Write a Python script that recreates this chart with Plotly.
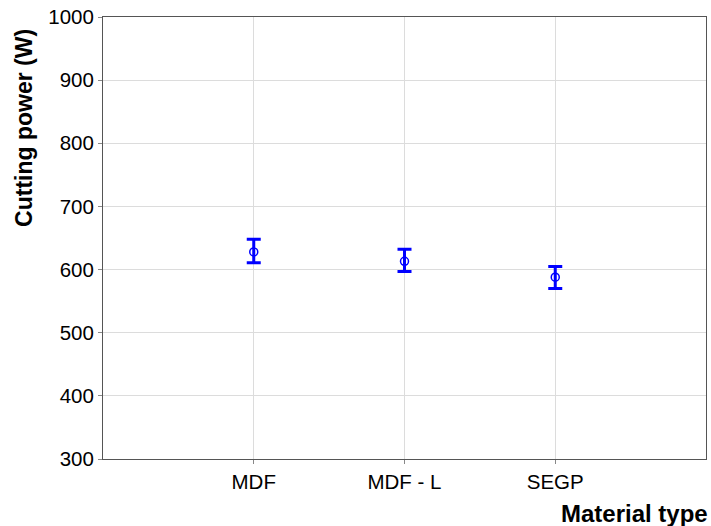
import plotly.graph_objects as go

categories = ["MDF", "MDF - L", "SEGP"]
means = [628, 613, 588]
upper = [648, 632, 605]
lower = [611, 597, 570]
y_ticks = [300, 400, 500, 600, 700, 800, 900, 1000]

err_plus = [u - m for u, m in zip(upper, means)]
err_minus = [m - l for m, l in zip(means, lower)]
xpos = list(range(len(categories)))

fig = go.Figure()
fig.add_trace(go.Scatter(
    x=xpos, y=means, mode="markers",
    marker=dict(symbol="circle-open", size=8, color="#0000ff", line=dict(width=1.5, color="#0000ff")),
    error_y=dict(type="data", symmetric=False, array=err_plus, arrayminus=err_minus,
                 color="#0000ff", thickness=3, width=7),
    showlegend=False,
))

font = "Liberation Sans, Arial, sans-serif"
fig.update_layout(
    width=711, height=526,
    margin=dict(l=103, r=5, t=17, b=67),
    plot_bgcolor="white", paper_bgcolor="white",
    font=dict(family=font, color="black", size=20),
    xaxis=dict(
        range=[-1, 3], tickmode="array", tickvals=xpos, ticktext=categories,
        showgrid=True, gridcolor="#dcdcdc", gridwidth=1,
        showline=True, linecolor="#555555", linewidth=1, mirror=True,
        ticks="outside", ticklen=4, tickcolor="#888888",
        tickfont=dict(size=20.5), zeroline=False,
    ),
    yaxis=dict(
        range=[300, 1000], tickmode="array", tickvals=y_ticks,
        showgrid=True, gridcolor="#dcdcdc", gridwidth=1,
        showline=True, linecolor="#555555", linewidth=1, mirror=True,
        ticks="outside", ticklen=4, tickcolor="#888888",
        tickfont=dict(size=20.5), zeroline=False,
    ),
    annotations=[
        dict(text="<b>Cutting power (W)</b>", xref="paper", yref="paper",
             x=-0.132, y=0.75, xanchor="center", yanchor="middle", textangle=-90,
             showarrow=False, font=dict(size=23, family=font)),
        dict(text="<b>Material type</b>", xref="paper", yref="paper",
             x=1.007, y=-0.123, xanchor="right", yanchor="middle",
             showarrow=False, font=dict(size=24, family=font)),
    ],
)

fig.write_html("out.html", config={"displayModeBar": False})

with open("out.html", "r", encoding="utf-8") as f:
    html = f.read()
html = html.replace("<body>", "<body style=\"margin:0;padding:0;overflow:hidden\">", 1)
with open("out.html", "w", encoding="utf-8") as f:
    f.write(html)
